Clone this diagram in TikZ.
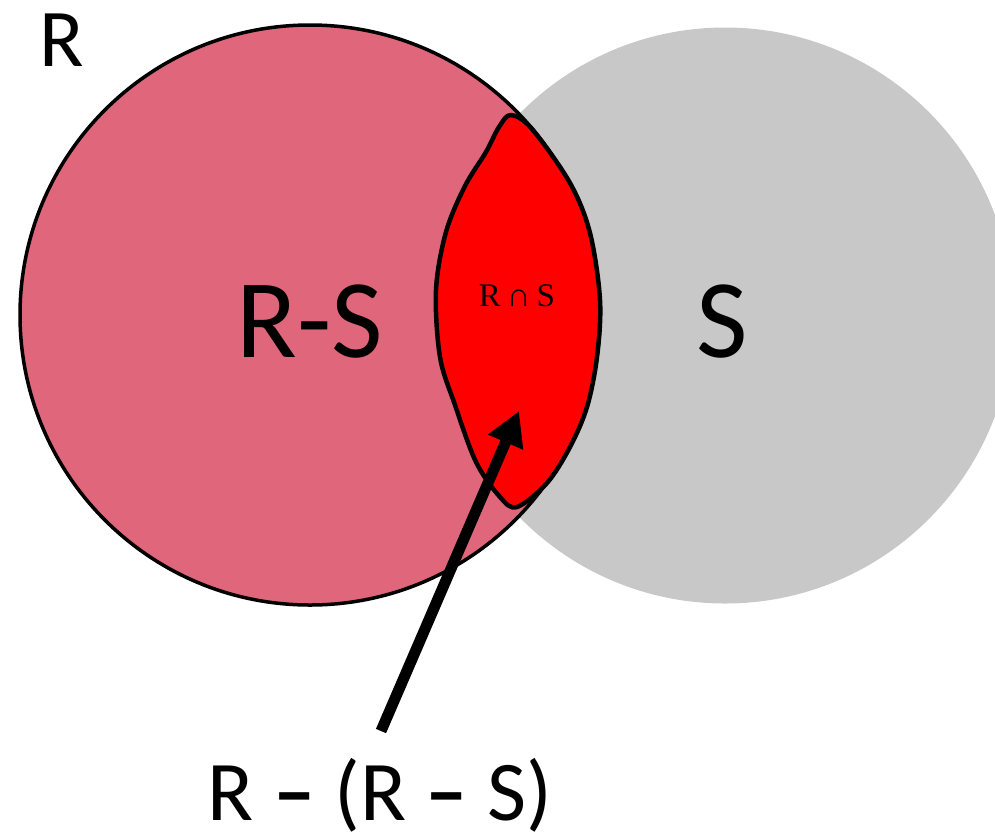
\documentclass[tikz,border=0pt]{standalone}
\usepackage{fontspec}
\setmainfont{Carlito}
\newfontfamily\serifx{Liberation Serif}
\usetikzlibrary{arrows.meta}
\definecolor{rpink}{RGB}{224,103,123}
\definecolor{sgrey}{RGB}{200,200,200}
\definecolor{lensred}{RGB}{255,0,0}
\begin{document}
\begin{tikzpicture}[x=1pt,y=-1pt,
  lbl/.style={inner sep=0pt,text=black}]
\useasboundingbox (0,0) rectangle (995,839);
% S circle
\fill[sgrey] (725,315.5) circle (288);
% R circle
\fill[rpink] (310,315) circle (290);
\draw[line width=3.5pt] (310,315) circle (290);
% lens
\draw[fill=lensred,line width=4.5pt,line join=round] plot[smooth cycle,tension=0.55] coordinates {
 (511,115) (532,129) (570,183) (590,233) (600,300) (597,357) (587,407) (570,447) (547,483) (517,507)
 (500,497) (476,462) (455,405) (440,357) (436,290) (446,232) (465,186) (486,152) (499,127)};
% labels
\node[lbl,font=\fontsize{82}{82}\selectfont] (r) at (62,40) {R};
\node[lbl,font=\fontsize{112}{112}\selectfont] (rs) at (310,322) {R-S};
\node[lbl,font=\fontsize{112}{112}\selectfont] (s) at (722,322) {S};
\node[lbl,font=\serifx\fontsize{22}{22}\selectfont] (ri) at (517,296) {\scalebox{1.5}{R\hspace{4pt}∩\hspace{4pt}S}};
\node[lbl,font=\fontsize{85}{85}\selectfont] (bot) at (380,795) {R {\bfseries –} (R {\bfseries –} S)};
\coordinate (tip) at (519,411);
\coordinate (tail) at (381,731);
\draw[line width=11pt,-{Triangle[length=34pt,width=36pt]}] (tail) -- (tip);
\end{tikzpicture}
\end{document}
